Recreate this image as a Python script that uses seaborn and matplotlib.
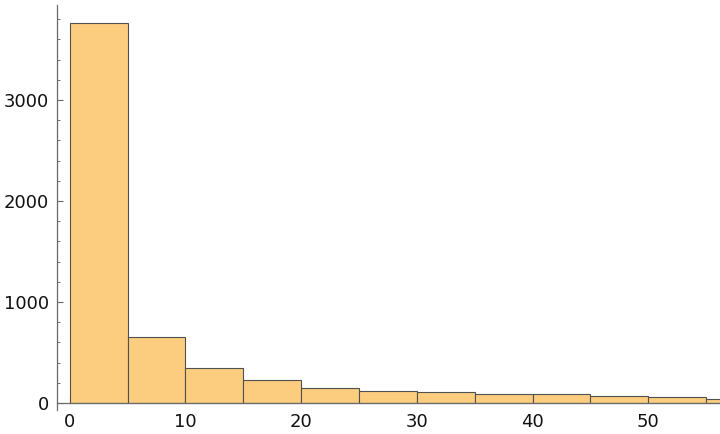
import matplotlib
matplotlib.use("Agg")
import matplotlib.pyplot as plt
import seaborn as sns
import numpy as np
from matplotlib.ticker import MultipleLocator

bin_edges = [0, 5, 10, 15, 20, 25, 30, 35, 40, 45, 50, 55, 60]
counts = [3760, 652, 344, 226, 145, 116, 106, 86, 86, 66, 56, 37]
centers = [(a + b) / 2 for a, b in zip(bin_edges[:-1], bin_edges[1:])]

sns.set_style("white")
plt.rcParams['font.family'] = ['DejaVu Sans']

fig = plt.figure(figsize=(7.2, 4.34), dpi=100)
ax = fig.add_axes([57.5/720, 1 - 410/434, 1 - 57.5/720, (410 - 5)/434])

sns.histplot(x=centers, weights=counts, bins=bin_edges, ax=ax,
             color="#FCCD7F", alpha=1.0, edgecolor="#505050", linewidth=0.8)

ax.set_xlim(-1.05, 56.2)
ax.set_ylim(-70, 3940)
ax.set_xlabel("")
ax.set_ylabel("")

for s in ["top", "right"]:
    ax.spines[s].set_visible(False)
for s in ["left", "bottom"]:
    ax.spines[s].set_color("#6a6a6a")
    ax.spines[s].set_linewidth(0.9)
ax.spines["bottom"].set_position(("data", 0))

ax.xaxis.set_major_locator(MultipleLocator(10))
ax.xaxis.set_minor_locator(MultipleLocator(2))
ax.yaxis.set_major_locator(MultipleLocator(1000))
ax.yaxis.set_minor_locator(MultipleLocator(200))
ax.tick_params(which="major", direction="in", length=4.5, width=0.8, color="#6a6a6a",
               labelsize=13, labelcolor="#111111")
ax.tick_params(which="minor", direction="in", length=2.5, width=0.7, color="#6a6a6a")
ax.tick_params(axis="x", which="both", bottom=True, pad=7)
ax.tick_params(axis="y", which="both", left=True, pad=6)
for t in ax.get_xticklabels() + ax.get_yticklabels():
    t.set_clip_on(False)

fig.savefig("out.png", dpi=100)
